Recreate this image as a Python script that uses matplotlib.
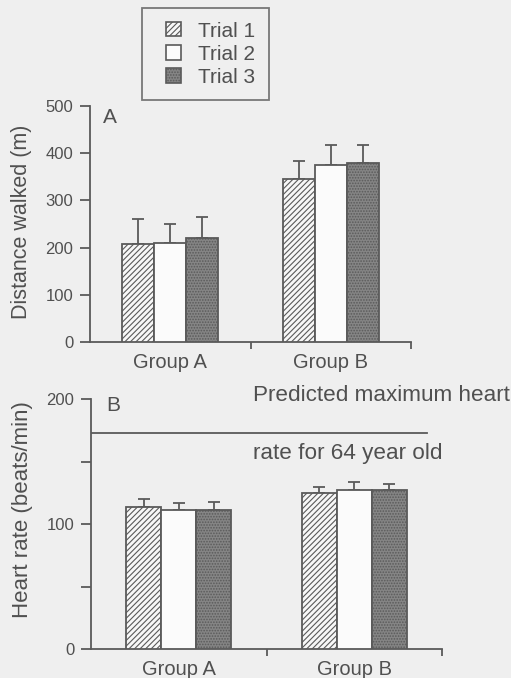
import matplotlib
matplotlib.use("Agg")
import matplotlib.pyplot as plt
from matplotlib.patches import Patch, Rectangle
from matplotlib.legend_handler import HandlerPatch
import numpy as np

plt.rcParams['font.family'] = ['Liberation Sans', 'DejaVu Sans']
plt.rcParams['hatch.linewidth'] = 0.8

# ---------------- data ----------------
groups = ["Group A", "Group B"]
trials = ["Trial 1", "Trial 2", "Trial 3"]

# Panel A: distance walked (m), mean and upper error (SD)
dist_mean = {"Trial 1": [208, 345], "Trial 2": [210, 376], "Trial 3": [220, 380]}
dist_err = {"Trial 1": [52, 38], "Trial 2": [39, 41], "Trial 3": [44, 37]}

# Panel B: heart rate (beats/min)
hr_mean = {"Trial 1": [114, 125], "Trial 2": [111, 127], "Trial 3": [111, 127]}
hr_err = {"Trial 1": [6, 5], "Trial 2": [6, 7], "Trial 3": [7, 5]}

predicted_max_hr = 173

dist_ticks = [0, 100, 200, 300, 400, 500]
hr_ticks = [0, 50, 100, 150, 200]
hr_ticklabels = ["0", "", "100", "", "200"]

# ---------------- style ----------------
BG = "#efefef"
INK = "#5a5a5a"
TXT = "#505050"
styles = {
    "Trial 1": dict(facecolor="#f7f7f7", hatch="//////"),
    "Trial 2": dict(facecolor="#fbfbfb", hatch=None),
    "Trial 3": dict(facecolor="#858585", hatch="......"),
}

fig = plt.figure(figsize=(5.11, 6.78), dpi=100, facecolor=BG)

W, H = 511, 678
def rect(x0, x1, ytop, ybot):
    return [x0 / W, 1 - ybot / H, (x1 - x0) / W, (ybot - ytop) / H]

axA = fig.add_axes(rect(90, 411, 106, 342))
axB = fig.add_axes(rect(91, 442, 399, 649.3))

bar_w = 0.2
offsets = [-bar_w, 0, bar_w]
centers = np.arange(len(groups)) + 0.5


def draw(ax, means, errs):
    for t, off in zip(trials, offsets):
        x = centers + off
        st = styles[t]
        ax.bar(x, means[t], width=bar_w, facecolor=st["facecolor"],
               hatch=st["hatch"], edgecolor=INK, linewidth=1.3, zorder=3)
        ax.errorbar(x, means[t], yerr=[np.zeros(len(x)), errs[t]], fmt="none",
                    ecolor=INK, elinewidth=1.3, capsize=4.5, capthick=1.3, zorder=2)


def style_axes(ax, ticks, labels, ylim):
    ax.set_facecolor("none")
    for s in ["top", "right"]:
        ax.spines[s].set_visible(False)
    for s in ["left", "bottom"]:
        ax.spines[s].set_color(INK)
        ax.spines[s].set_linewidth(1.3)
    ax.set_xlim(0, 2)
    ax.set_ylim(*ylim)
    ax.set_yticks(ticks)
    ax.set_yticklabels(labels)
    ax.set_xticks(centers)
    ax.set_xticklabels(groups)
    ax.set_xticks([1, 2], minor=True)
    ax.tick_params(axis="x", which="major", length=0, pad=8, labelsize=14.5, labelcolor=TXT)
    ax.tick_params(axis="x", which="minor", length=5, width=1.3, color=INK, direction="out")
    ax.tick_params(axis="y", length=7, width=1.3, color=INK, pad=5, labelsize=12, labelcolor=TXT)


draw(axA, dist_mean, dist_err)
style_axes(axA, dist_ticks, [str(v) for v in dist_ticks], (0, 500))
axA.set_ylabel("Distance walked (m)", fontsize=15.5, color=TXT)
axA.yaxis.set_label_coords(-0.18, 0.51)
axA.text(0.08, 475, "A", fontsize=15, color=TXT, va="center", ha="left")

draw(axB, hr_mean, hr_err)
style_axes(axB, hr_ticks, hr_ticklabels, (0, 200))
axB.set_ylabel("Heart rate (beats/min)", fontsize=16, color=TXT)
axB.yaxis.set_label_coords(-0.165, 0.56)
axB.text(0.085, 194.5, "B", fontsize=15, color=TXT, va="center", ha="left")

axB.axhline(predicted_max_hr, xmin=0, xmax=0.957, color=INK, linewidth=1.3, zorder=1)
axB.text(0.923, predicted_max_hr + 30, "Predicted maximum heart", fontsize=16.2,
         color=TXT, va="center", ha="left", clip_on=False)
axB.text(0.923, predicted_max_hr - 16.5, "rate for 64 year old", fontsize=16.2,
         color=TXT, va="center", ha="left", clip_on=False)


def square_right(legend, orig_handle, xdescent, ydescent, width, height, fontsize):
    return Rectangle((-xdescent + width - height, -ydescent), height, height)


handles = [Patch(facecolor=styles[t]["facecolor"], hatch=styles[t]["hatch"],
                 edgecolor=INK, linewidth=1.2, label=t) for t in trials]
leg = fig.legend(handles=handles, loc="upper left", bbox_to_anchor=(142 / W, 1 - 8 / H),
                 frameon=True, fancybox=False, fontsize=15, handlelength=1.2,
                 handleheight=0.68, handletextpad=0.85, borderpad=0.65, labelspacing=0.2,
                 borderaxespad=0,
                 handler_map={Patch: HandlerPatch(patch_func=square_right)})
leg.get_frame().set_edgecolor(INK)
leg.get_frame().set_linewidth(1.3)
leg.get_frame().set_facecolor(BG)
for txt in leg.get_texts():
    txt.set_color(TXT)

fig.savefig("out.png", dpi=100, facecolor=BG)
